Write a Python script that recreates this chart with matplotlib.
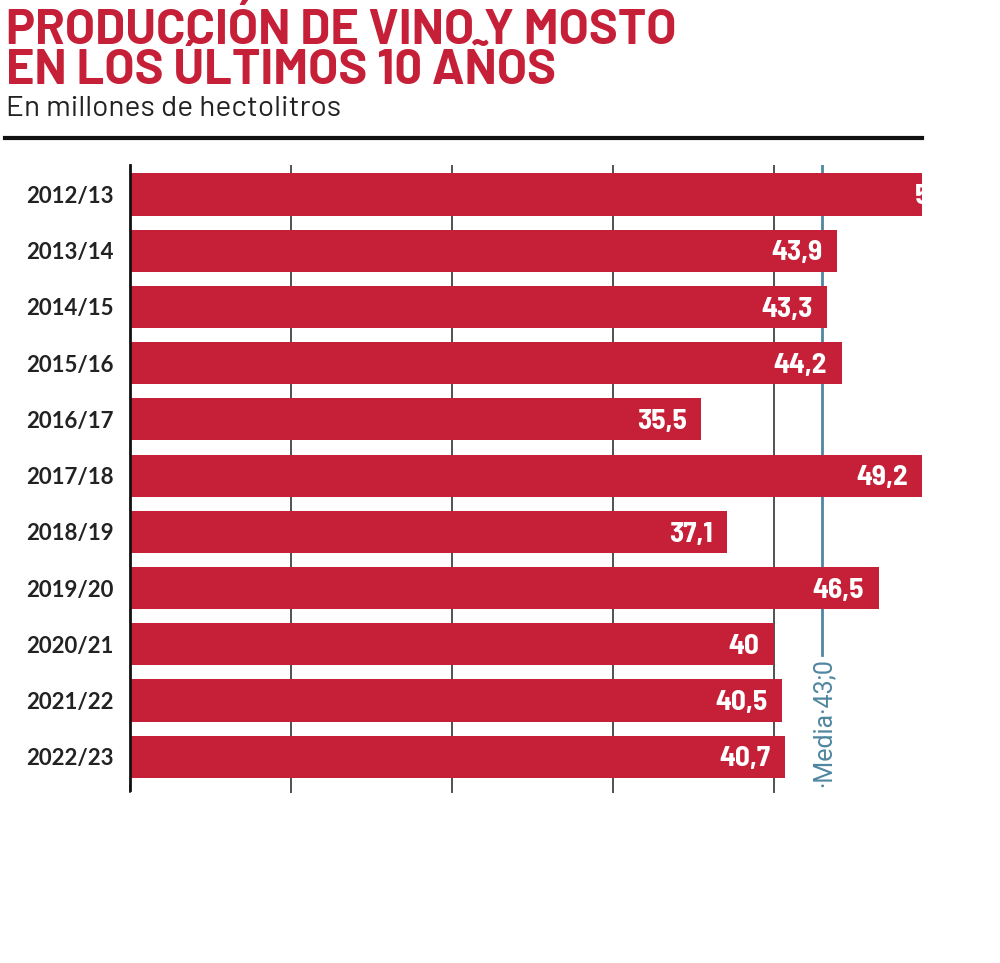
import matplotlib.pyplot as plt
import matplotlib.transforms as mtransforms

# data
seasons = ['2012/13', '2013/14', '2014/15', '2015/16', '2016/17', '2017/18',
           '2018/19', '2019/20', '2020/21', '2021/22', '2022/23']
production = [52.8, 43.9, 43.3, 44.2, 35.5, 49.2, 37.1, 46.5, 40.0, 40.5, 40.7]
value_labels = ['52,8', '43,9', '43,3', '44,2', '35,5', '49,2', '37,1', '46,5', '40', '40,5', '40,7']
media = 43.0
media_label = '·Media·43;0'

RED = '#c61f38'
BLUE = '#4f86a0'
SEMI = ['Barlow Semi Condensed', 'DejaVu Sans']
WIDE = ['Barlow', 'Barlow Semi Condensed', 'DejaVu Sans']

fig = plt.figure(figsize=(10, 9.63), dpi=100)
ax = fig.add_axes([0.13, 0.185, 0.792, 0.644])

y = list(range(len(seasons)))

# media line (behind bars)
ax.axvline(media, ymin=0.21, ymax=1, color=BLUE, lw=2, zorder=1)
trans = mtransforms.blended_transform_factory(ax.transData, ax.transAxes)
ax.text(media + 0.05, 0.1, media_label, transform=trans, rotation=90,
        ha='center', va='center', color=BLUE, fontsize=18, family=['Roboto', 'DejaVu Sans'])

ax.barh(y, production, height=0.75, color=RED, zorder=2)
for yi, v, lab in zip(y, production, value_labels):
    ax.text(v - 0.9, yi + 0.04, lab, ha='right', va='center', color='white',
            fontsize=21, fontweight='bold', family=SEMI, zorder=3, clip_on=True)

ax.set_xlim(0, 49.2)
ax.set_ylim(10.5, -0.53)
ax.set_xticks([0, 10, 20, 30, 40])
ax.set_xticklabels([])
ax.grid(axis='x', color='#333333', lw=1.2, zorder=0)
ax.set_axisbelow(True)
ax.set_yticks(y)
ax.set_yticklabels(seasons, fontsize=16, fontweight='bold', color='#222222',
                   family=['Lato', 'DejaVu Sans'])
ax.tick_params(axis='y', length=0, pad=12)
ax.tick_params(axis='x', length=6, width=1.2, color='#333333', direction='out')
for s in ['top', 'right', 'bottom']:
    ax.spines[s].set_visible(False)
ax.spines['left'].set_linewidth(2)
ax.spines['left'].set_color('#111111')
ax.spines['left'].set_bounds(10.6, -0.53)

# title block
fig.text(0.006, 0.9543, 'PRODUCCIÓN DE VINO Y MOSTO', ha='left', va='baseline',
         color=RED, fontsize=35, fontweight='bold', family=WIDE)
fig.text(0.006, 0.9130, 'EN LOS ÚLTIMOS 10 AÑOS', ha='left', va='baseline',
         color=RED, fontsize=35, fontweight='bold', family=WIDE)
fig.text(0.006, 0.8795, 'En millones de hectolitros', ha='left', va='baseline',
         color='#222222', fontsize=21.5, family=WIDE)
fig.add_artist(plt.Line2D([0.005, 0.922], [0.857, 0.857], color='#111111', lw=3))

fig.savefig('out.png', dpi=100, facecolor='white')
